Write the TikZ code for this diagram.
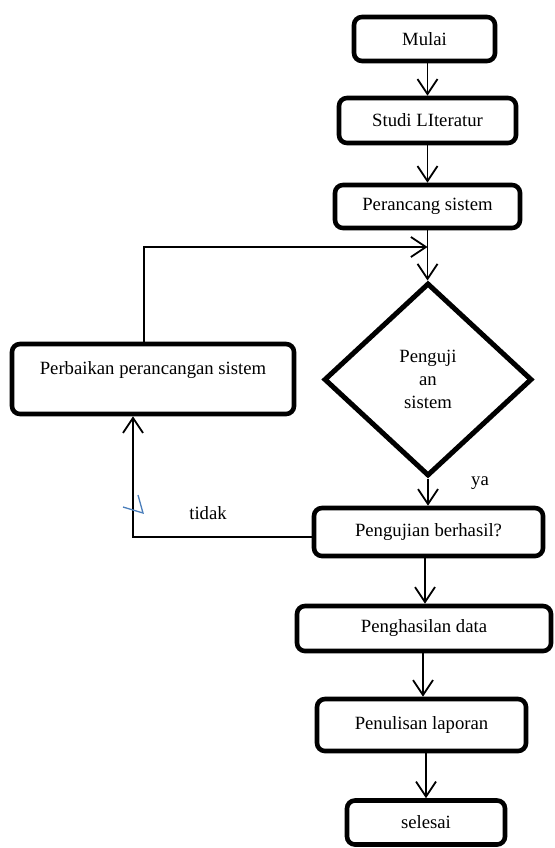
\documentclass[tikz,border=0pt]{standalone}
\usepackage{fontspec}
\setmainfont{Liberation Serif}
\usetikzlibrary{arrows.meta,shapes.geometric,calc}
\begin{document}
\begin{tikzpicture}[x=1pt,y=-1pt,
  every node/.style={font=\fontsize{18.7}{23}\selectfont},
  box/.style={draw,line width=4.6pt,rounded corners=8pt,inner sep=0pt},
  conn/.style={line width=1.8pt,-{Straight Barb[length=15pt,width=20pt,line width=1.8pt]}},
  lbl/.style={inner sep=0pt}]
\fill[white] (0,0) rectangle (554,848);
\useasboundingbox (0,0) rectangle (554,848);
\node[box,minimum width=141pt,minimum height=44pt] (mulai) at (424.5,39) {Mulai};
\node[box,minimum width=177pt,minimum height=45pt] (studi) at (427.5,120.5) {Studi LIteratur};
\node[box,minimum width=185pt,minimum height=43pt] (rancang) at (427.5,206.5) {Perancang sistem};
\node[box,minimum width=282pt,minimum height=70pt,text height=13pt,text depth=22pt] (perbaikan) at (153,379) {Perbaikan perancangan sistem};
\node[draw,diamond,line width=5pt,inner sep=0pt,minimum width=208pt,minimum height=193pt,align=center] (uji) at (428,379.5) {Penguji\\an\\sistem};
\node[box,minimum width=229pt,minimum height=48pt] (hasil) at (428.5,532) {Pengujian berhasil?};
\node[box,minimum width=254pt,minimum height=45pt] (data) at (424,628.5) {Penghasilan data};
\node[box,minimum width=209pt,minimum height=52pt] (tulis) at (421.5,725) {Penulisan laporan};
\node[box,minimum width=158pt,minimum height=44pt] (selesai) at (426,822.5) {selesai};

\coordinate (merge) at (427.5,247);
\coordinate (loopx) at (144,0);
\coordinate (backx) at (133,0);

\draw[conn] (mulai.south -| studi.north) -- (studi.north);
\draw[conn] (studi.south) -- (rancang.north);
\draw[conn] (rancang.south) -- (rancang.south |- uji.north);
\draw[conn] (perbaikan.north -| loopx) |- (merge);
\draw[conn] (uji.south) -- (uji.south |- hasil.north);
\draw[conn] ($(hasil.west)+(0,5)$) -| (perbaikan.south -| backx);
\draw[conn] (hasil.south -| 425,0) -- (data.north -| 425,0);
\draw[conn] (data.south -| 423,0) -- (tulis.north -| 423,0);
\draw[conn] (tulis.south -| 426,0) -- (selesai.north -| 426,0);

\node[lbl] (ya) at (480,483) {ya};
\node[lbl] (tidak) at (208,513) {tidak};
\draw[line width=1.3pt,color={rgb,255:red,74;green,126;blue,187}] (138,495) -- (143,513) -- (123,507);
\end{tikzpicture}
\end{document}
